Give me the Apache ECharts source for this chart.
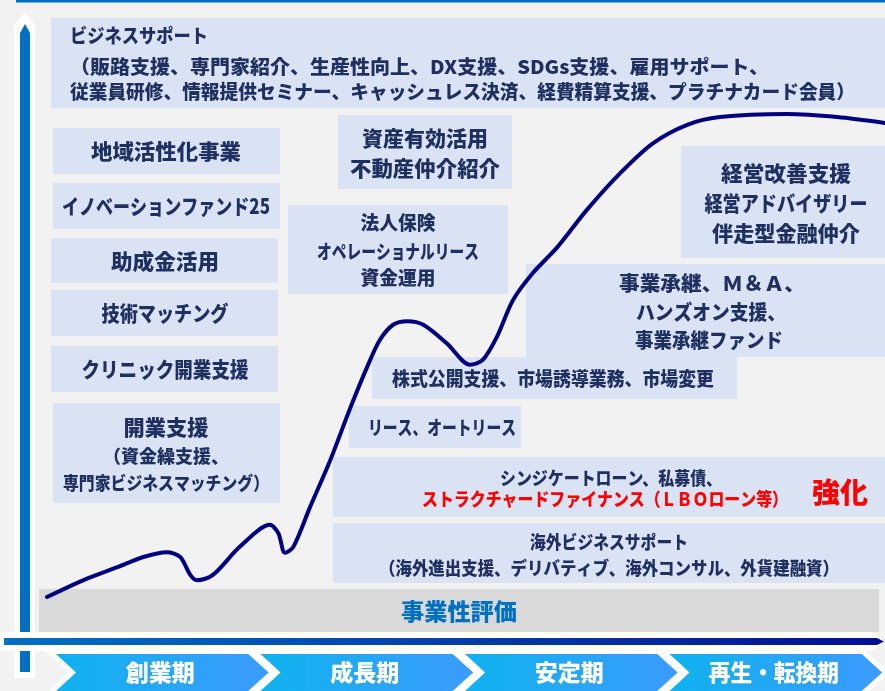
<!DOCTYPE html>
<html>
<head>
<meta charset="utf-8">
<script src="https://cdn.jsdelivr.net/npm/echarts/dist/echarts.min.js"></script>
<style>
  html, body { margin: 0; padding: 0; background: #f2f2f2; }
  #main { width: 885px; height: 691px; }
</style>
</head>
<body>
<div id="main"></div>
<script>
// Company life-cycle stages shown along the bottom
const stages = ['創業期', '成長期', '安定期', '再生・転換期'];

// Illustrative growth curve: time along the life cycle (0–100) vs. business level (0–100)
const curveTime  = [0, 4.3, 8.4, 11.5, 14.3, 15.9, 17.1, 17.9, 19.8, 23.0, 26.6, 27.6, 28.4, 29.4, 31.4, 33.8, 36.2, 38.2, 39.7, 41.3, 43.0, 44.9, 47.7, 50.5, 52.0, 53.7, 55.6, 58.0, 60.9, 64.4, 68.4, 72.3, 76.4, 80.3, 88.3, 94.3, 100];
const curveLevel = [0, 2.8, 5.0, 6.7, 7.5, 6.7, 3.7, 2.8, 3.7, 8.4, 12.1, 10.7, 7.4, 8.4, 15.1, 22.9, 31.7, 38.5, 43.0, 45.6, 46.2, 45.6, 42.5, 38.9, 39.7, 43.6, 49.7, 54.3, 58.6, 64.8, 71.0, 76.0, 79.1, 80.4, 80.9, 80.4, 79.4];

// Service menus
const businessSupport = [
  'ビジネスサポート',
  '（販路支援、専門家紹介、生産性向上、DX支援、SDGs支援、雇用サポート、',
  '従業員研修、情報提供セミナー、キャッシュレス決済、経費精算支援、プラチナカード会員）'
];
const startupServices = ['地域活性化事業', 'イノベーションファンド25', '助成金活用', '技術マッチング', 'クリニック開業支援'];
const startupSupport = ['開業支援', '（資金繰支援、', '専門家ビジネスマッチング）'];
const assetServices = ['資産有効活用', '不動産仲介紹介'];
const insuranceServices = ['法人保険', 'オペレーショナルリース', '資金運用'];
const turnaroundServices = ['経営改善支援', '経営アドバイザリー', '伴走型金融仲介'];
const successionServices = ['事業承継、Ｍ＆Ａ、', 'ハンズオン支援、', '事業承継ファンド'];
const ipoServices = ['株式公開支援、市場誘導業務、市場変更'];
const leaseServices = ['リース、オートリース'];
const financeServices = ['シンジケートローン、私募債、', 'ストラクチャードファイナンス（ＬＢＯローン等）'];
const emphasisLabel = '強化';
const overseasServices = ['海外ビジネスサポート', '（海外進出支援、デリバティブ、海外コンサル、外貨建融資）'];
const foundationLabel = '事業性評価';

// ---- drawing helpers ----
const INK = '#1f2f5f';
const BOX = '#dae3f3';
const RED = '#ff0000';
const FONT = '"Noto Sans CJK JP", "Noto Sans", sans-serif';
const WEIGHT = '900';
const elements = [];
const measureCtx = document.createElement('canvas').getContext('2d');

function rect(x, y, w, h, fill, z) {
  elements.push({ type: 'rect', silent: true, z: z || 0,
    shape: { x: x, y: y, width: w, height: h }, style: { fill: fill } });
}
function poly(points, fill, z) {
  elements.push({ type: 'polygon', silent: true, z: z || 0,
    shape: { points: points }, style: { fill: fill } });
}
// text line; when a width is given the line is condensed/stretched horizontally to fit it
function fitScale(text, font, width) {
  if (!width) return 1;
  measureCtx.font = font;
  const w = measureCtx.measureText(text).width;
  return w > 0 ? width / w : 1;
}
function label(text, x, y, size, opts) {
  opts = opts || {};
  const a = opts.align || 'center';
  const font = WEIGHT + ' ' + size + 'px ' + FONT;
  elements.push({ type: 'text', silent: true, z: 1, x: x, y: y,
    scaleX: fitScale(text, font, opts.width),
    style: { text: text, fill: opts.color || INK, font: font,
             textAlign: a, textVerticalAlign: 'middle', align: a, verticalAlign: 'middle' } });
}

// frame: top rule and vertical arrow
rect(16, 0, 869, 2.5, '#0070c0');
poly([[14, 25], [24.5, 12], [35, 25], [35, 678], [14, 678]], '#ffffff');
poly([[20, 33], [25, 24], [30, 33], [30, 672], [20, 672]], '#0070c0');

// service boxes
rect(51, 18, 834, 90, BOX);
label(businessSupport[0], 70, 36, 19, { align: 'left', width: 138 });
label(businessSupport[1], 70, 67, 19, { align: 'left', width: 699 });
label(businessSupport[2], 70, 92, 19, { align: 'left', width: 785 });

rect(53, 128, 227, 46, BOX);  label(startupServices[0], 166, 151, 21, { width: 150 });
rect(53, 183, 227, 46, BOX);  label(startupServices[1], 166, 206, 21, { width: 208 });
rect(51, 238, 227, 45, BOX);  label(startupServices[2], 165, 261, 21, { width: 108 });
rect(51, 290, 227, 46, BOX);  label(startupServices[3], 165, 313, 21, { width: 127 });
rect(51, 346, 227, 46, BOX);  label(startupServices[4], 165, 369, 21, { width: 167 });

rect(53, 403, 227, 100, BOX);
label(startupSupport[0], 166, 427, 21, { width: 85 });
label(startupSupport[1], 166, 456, 18, { width: 126 });
label(startupSupport[2], 166, 483, 18, { width: 206 });

rect(338, 115, 174, 74, BOX);
label(assetServices[0], 425, 138, 21, { width: 126 });
label(assetServices[1], 425, 168, 21, { width: 150 });

rect(288, 205, 220, 89, BOX);
label(insuranceServices[0], 398, 223, 19, { width: 75 });
label(insuranceServices[1], 398, 252, 19, { width: 162 });
label(insuranceServices[2], 398, 278, 19, { width: 75 });

rect(681, 146, 204, 112, BOX);
label(turnaroundServices[0], 786, 173, 21, { width: 130 });
label(turnaroundServices[1], 786, 203, 21, { width: 163 });
label(turnaroundServices[2], 786, 233, 21, { width: 148 });

rect(526, 264, 359, 93, BOX);
label(successionServices[0], 712, 283, 20, { width: 186 });
label(successionServices[1], 711, 312, 20, { width: 150 });
label(successionServices[2], 709, 340, 20, { width: 148 });

rect(372, 357, 365, 42, BOX);
label(ipoServices[0], 553, 379, 19, { width: 322 });

rect(349, 406, 172, 42, BOX);
label(leaseServices[0], 442, 428, 19, { width: 148 });

rect(333, 457, 552, 60, BOX);
label(financeServices[0], 611, 478, 18, { width: 222 });
label(financeServices[1], 605, 499, 18, { width: 366, color: RED });
label(emphasisLabel, 840, 492, 28, { color: RED });

rect(333, 523, 552, 60, BOX);
label(overseasServices[0], 609, 542, 18, { width: 158 });
label(overseasServices[1], 609, 568, 18, { width: 460 });

// foundation bar
rect(39, 589, 840, 43, '#d9d9d9');
label(foundationLabel, 459, 611, 23, { color: '#0070c0', width: 116 });

// horizontal time arrow
poly([[0, 632], [872, 632], [885, 641.5], [872, 651], [0, 651]], '#ffffff', 2);
poly([[4, 638], [877, 638], [884, 641.5], [877, 645], [4, 645]],
  new echarts.graphic.LinearGradient(0, 0, 1, 0, [
    { offset: 0, color: '#0070c0' }, { offset: 1, color: '#03108f' }]), 3);

const chart = echarts.init(document.getElementById('main'), null, { renderer: 'canvas', width: 885, height: 691 });

chart.setOption({
  backgroundColor: '#f2f2f2',
  animation: false,
  graphic: { elements: elements },
  grid: [
    { left: 47, right: 0, top: 0, bottom: 94 },
    { left: 56, right: 11, top: 654, height: 48 }
  ],
  xAxis: [
    { gridIndex: 0, type: 'value', min: 0, max: 100, show: false },
    { gridIndex: 1, type: 'category', data: stages, show: false }
  ],
  yAxis: [
    { gridIndex: 0, type: 'value', min: 0, max: 100, show: false },
    { gridIndex: 1, type: 'value', min: 0, max: 1, show: false }
  ],
  series: [
    {
      type: 'line',
      xAxisIndex: 0, yAxisIndex: 0,
      data: curveTime.map((t, i) => [t, curveLevel[i]]),
      smooth: 0.3,
      symbol: 'none',
      z: 5,
      lineStyle: { color: '#000080', width: 4, cap: 'round' }
    },
    {
      type: 'custom',
      xAxisIndex: 1, yAxisIndex: 1,
      data: stages.map((s, i) => [i, 0]),
      z: 4,
      renderItem: function (params, api) {
        const idx = api.value(0);
        const c = api.coord([idx, 0]);
        const bw = api.size([1, 0])[0];
        const x0 = c[0] - bw / 2;
        const top = params.coordSys.y;
        const h = params.coordSys.height;
        const mid = top + h / 2;
        const bot = top + h;
        const pts = [
          [x0, top], [x0 + bw * 0.94, top], [x0 + bw * 1.04, mid],
          [x0 + bw * 0.94, bot], [x0, bot], [x0 + bw * 0.098, mid]
        ];
        const font = WEIGHT + ' 23px ' + FONT;
        const text = stages[idx];
        return {
          type: 'group',
          children: [
            { type: 'polygon', shape: { points: pts },
              style: { fill: '#ffffff', stroke: '#ffffff', lineWidth: 10, lineJoin: 'miter' } },
            { type: 'polygon', shape: { points: pts },
              style: { fill: new echarts.graphic.LinearGradient(0, 0, 1, 0, [
                { offset: 0, color: '#0fb2ee' }, { offset: 1, color: '#3c9bfd' }]) } },
            { type: 'text', x: x0 + bw * 0.51, y: mid,
              scaleX: text.length > 3 ? fitScale(text, font, 130) : 1,
              style: { text: text, fill: '#ffffff', font: font,
                       textAlign: 'center', textVerticalAlign: 'middle', align: 'center', verticalAlign: 'middle' } }
          ]
        };
      }
    }
  ]
});
</script>
</body>
</html>
